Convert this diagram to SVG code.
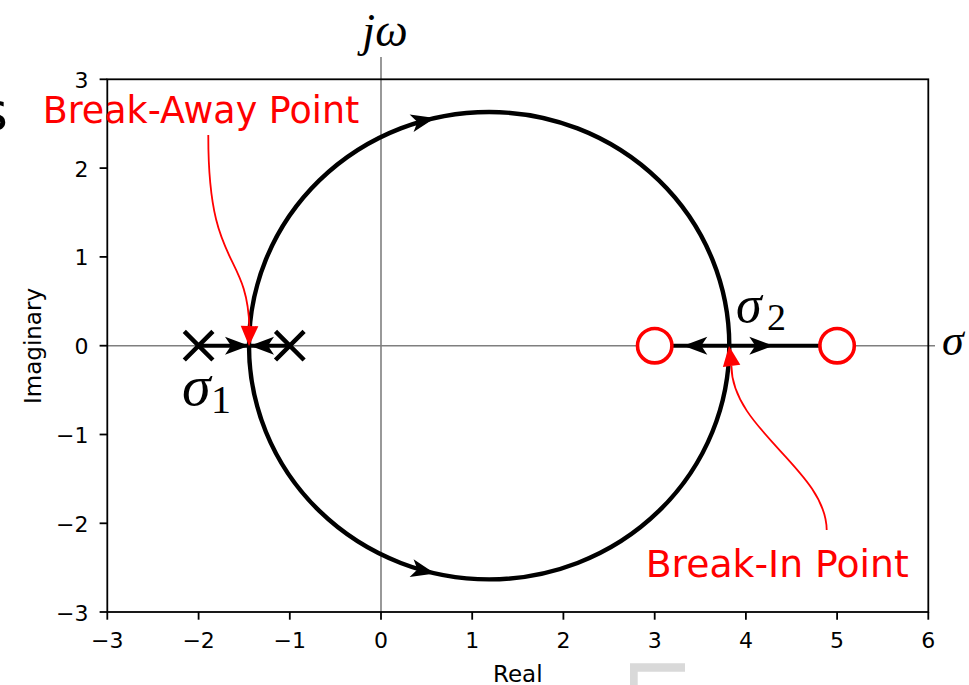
<svg xmlns="http://www.w3.org/2000/svg" xmlns:xlink="http://www.w3.org/1999/xlink" width="969" height="685" viewBox="0 0 969 685">
<style>
.tick{font-family:"DejaVu Sans",sans-serif;font-size:22px;fill:#000}
.ylab{text-anchor:end}
.xlab{text-anchor:middle}
.axlab{font-family:"DejaVu Sans",sans-serif;font-size:23px;fill:#000}
.math{font-family:"Liberation Serif","DejaVu Serif",serif;font-style:italic;fill:#000}
.sub{font-family:"Liberation Serif","DejaVu Serif",serif;fill:#000}
.note{font-family:"Comic Sans MS","DejaVu Sans",sans-serif;font-size:37px;fill:#ff0000}
.zero{fill:#fff;stroke:#ff0000;stroke-width:3.6}
.pole{stroke:#000;stroke-width:4.5;fill:none}
.grid0{stroke:#7f7f7f;stroke-width:1.6}
.tk{stroke:#000;stroke-width:1.8}
.locus{fill:none;stroke:#000;stroke-width:4.4}
.red{fill:none;stroke:#ff0000;stroke-width:1.8}
</style>
<defs>
<path id="bh" d="M0,0 L-24,-9 L-18,0 L-24,9 Z" fill="#000"/>
<path id="rh" d="M0,0 L-20,-8.8 L-20,8.8 Z" fill="#ff0000"/>
</defs>
<rect width="969" height="685" fill="#fff"/>
<text x="8" y="130" font-family="DejaVu Sans,sans-serif" font-size="54" text-anchor="end" fill="#000">s</text>
<g id="axes">
<line class="grid0" x1="107.3" y1="345.7" x2="935" y2="345.7"/>
<line class="grid0" x1="381" y1="57" x2="381" y2="612"/>
<rect x="107.3" y="79.3" width="821" height="532.7" fill="none" stroke="#000" stroke-width="1.8"/>
<g class="tk">
<line x1="99.6" y1="79.3" x2="107.3" y2="79.3"/>
<line x1="99.6" y1="168.1" x2="107.3" y2="168.1"/>
<line x1="99.6" y1="256.9" x2="107.3" y2="256.9"/>
<line x1="99.6" y1="345.7" x2="107.3" y2="345.7"/>
<line x1="99.6" y1="434.5" x2="107.3" y2="434.5"/>
<line x1="99.6" y1="523.3" x2="107.3" y2="523.3"/>
<line x1="99.6" y1="612" x2="107.3" y2="612"/>
<line x1="107.3" y1="612" x2="107.3" y2="619.7"/>
<line x1="198.6" y1="612" x2="198.6" y2="619.7"/>
<line x1="289.8" y1="612" x2="289.8" y2="619.7"/>
<line x1="381" y1="612" x2="381" y2="619.7"/>
<line x1="472.2" y1="612" x2="472.2" y2="619.7"/>
<line x1="563.4" y1="612" x2="563.4" y2="619.7"/>
<line x1="654.7" y1="612" x2="654.7" y2="619.7"/>
<line x1="745.9" y1="612" x2="745.9" y2="619.7"/>
<line x1="837.1" y1="612" x2="837.1" y2="619.7"/>
<line x1="928.3" y1="612" x2="928.3" y2="619.7"/>
</g>
<g class="tick ylab">
<text x="88.5" y="87.8">3</text>
<text x="88.5" y="176.6">2</text>
<text x="88.5" y="265.4">1</text>
<text x="88.5" y="354.2">0</text>
<text x="88.5" y="443">−1</text>
<text x="88.5" y="531.8">−2</text>
<text x="88.5" y="620.5">−3</text>
</g>
<g class="tick xlab">
<text x="107.3" y="648">−3</text>
<text x="198.6" y="648">−2</text>
<text x="289.8" y="648">−1</text>
<text x="381" y="648">0</text>
<text x="472.2" y="648">1</text>
<text x="563.4" y="648">2</text>
<text x="654.7" y="648">3</text>
<text x="745.9" y="648">4</text>
<text x="837.1" y="648">5</text>
<text x="928.3" y="648">6</text>
</g>
<text class="axlab" x="517.8" y="681.5" text-anchor="middle">Real</text>
<text class="axlab" transform="translate(41,346) rotate(-90)" text-anchor="middle">Imaginary</text>
<text class="math" x="385" y="46" font-size="46" text-anchor="middle">jω</text>
<text class="math" x="942" y="355" font-size="44">σ</text>
</g>
<g id="connectors">
<ellipse class="locus" cx="489.15" cy="345.7" rx="240.15" ry="233.7"/>
<line x1="198.6" y1="345.7" x2="289.8" y2="345.7" stroke="#000" stroke-width="4"/>
<line x1="654.7" y1="345.7" x2="837.1" y2="345.7" stroke="#000" stroke-width="4"/>
<use xlink:href="#bh" transform="translate(435,118) rotate(-12.7)"/>
<use xlink:href="#bh" transform="translate(435,573.4) rotate(12.7)"/>
<use xlink:href="#bh" transform="translate(249,345.7)"/>
<use xlink:href="#bh" transform="translate(250,345.7) rotate(180)"/>
<use xlink:href="#bh" transform="translate(683.3,345.7) rotate(180)"/>
<use xlink:href="#bh" transform="translate(773.3,345.7)"/>
</g>
<g id="pole1"><path class="pole" d="M184.3,331.4 L212.9,360 M184.3,360 L212.9,331.4"/></g>
<g id="pole2"><path class="pole" d="M275.5,331.4 L304.1,360 M275.5,360 L304.1,331.4"/></g>
<g id="zero1"><circle class="zero" cx="654.7" cy="345.7" r="17.2"/></g>
<g id="zero2"><circle class="zero" cx="837.1" cy="345.7" r="17.2"/></g>
<g id="sigma1"><text class="math" x="182" y="405" font-size="58">σ</text><text class="sub" x="211" y="413" font-size="40">1</text></g>
<g id="sigma2"><text class="math" x="736" y="321.7" font-size="52">σ</text><text class="sub" x="767" y="330" font-size="38">2</text></g>
<g id="breakaway">
<text class="note" x="42.7" y="123.3" textLength="316.6" lengthAdjust="spacingAndGlyphs">Break-Away Point</text>
<path class="red" d="M208.3,135 C208,270 247,250 249.4,327"/>
<use xlink:href="#rh" transform="translate(249,346) rotate(91.5)"/>
</g>
<g id="breakin">
<text class="note" x="645.7" y="577.3" textLength="263" lengthAdjust="spacingAndGlyphs">Break-In Point</text>
<path class="red" d="M826.7,530 C826,470 732,430 731.4,366"/>
<use xlink:href="#rh" transform="translate(729,346) rotate(-97.5)"/>
</g>
<path d="M630,685 V663.3 H685 V671.7 H637.7 V685 Z" fill="#d9d9d9"/>
</svg>
